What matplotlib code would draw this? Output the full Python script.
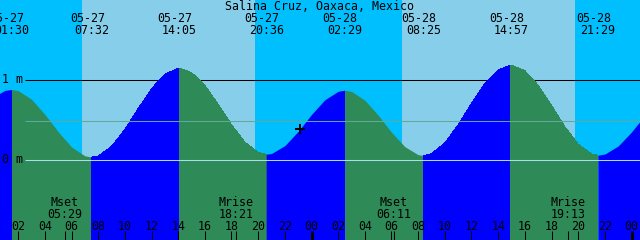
import matplotlib
matplotlib.use('Agg')
import matplotlib.pyplot as plt
import numpy as np

station = 'Salina Cruz, Oaxaca, Mexico'

# all times are hours counted from 05-27 00:00
event_hours = [1.500, 7.533, 14.083, 20.600, 26.483, 32.417, 38.950, 45.483]
event_levels = [0.875, 0.030, 1.140, 0.066, 0.866, 0.050, 1.180, 0.054]
event_dates = ['05-27', '05-27', '05-27', '05-27', '05-28', '05-28', '05-28', '05-28']
event_times = ['01:30', '07:32', '14:05', '20:36', '02:29', '08:25', '14:57', '21:29']

# water level (m) every hour, 00:00 05-27 .. 01:00 05-29
hourly_levels = [0.768, 0.863, 0.861, 0.753, 0.565, 0.347, 0.157, 0.046,
                 0.044, 0.162, 0.376, 0.636, 0.885, 1.067, 1.140, 1.088,
                 0.926, 0.691, 0.435, 0.218, 0.088, 0.075, 0.173, 0.352,
                 0.563, 0.747, 0.853, 0.851, 0.741, 0.554, 0.341, 0.160,
                 0.060, 0.072, 0.206, 0.433, 0.701, 0.949, 1.122, 1.180,
                 1.110, 0.928, 0.675, 0.410, 0.192, 0.069, 0.068, 0.169,
                 0.344, 0.552]

sunrise_hours = [6.79, 30.79]
sunset_hours = [19.76, 43.76]

moon_hours = [5.483, 18.350, 30.183, 43.217]
moon_names = ['Mset', 'Mrise', 'Mset', 'Mrise']
moon_times = ['05:29', '18:21', '06:11', '19:13']

tick_hours = list(range(2, 49, 2))
mean_level = 0.4875
now_hour = 23.17
now_level = 0.385

# colours
day_col = '#87CEEB'
night_col = '#00BFFF'
rise_col = '#0000FF'
fall_col = '#2E8B57'
mean_col = '#62A89A'
datum_col = '#A8DCEE'

# pixel layout: 13.333 px per hour, 80 px per metre
px_h = 640 / 48.0
x0 = 8.5 / px_h
ylo, yhi = -80.5 / 80, 159.5 / 80

fig = plt.figure(figsize=(6.4, 2.4), dpi=100)
ax = fig.add_axes([0, 0, 1, 1])
ax.set_xlim(x0, x0 + 48)
ax.set_ylim(ylo, yhi)
ax.axis('off')

font = dict(family='DejaVu Sans Mono', size=8.4, color='black')

# sky
ax.axvspan(-5, sunrise_hours[0], color=night_col, lw=0, zorder=0)
for r, s in zip(sunrise_hours, sunset_hours):
    ax.axvspan(r, s, color=day_col, lw=0, zorder=0)
ax.axvspan(sunset_hours[0], sunrise_hours[1], color=night_col, lw=0, zorder=0)
ax.axvspan(sunset_hours[1], 60, color=night_col, lw=0, zorder=0)

# 1 m line sits behind the water
x_line = x0 + 25 / px_h
ax.hlines(1.0, x_line, 60, color='black', lw=0.75, zorder=1)

# water, coloured by rising / falling tide
t = np.array(list(range(len(hourly_levels))) + event_hours, dtype=float)
lv = np.array(hourly_levels + event_levels)
order = np.argsort(t)
t, lv = t[order], lv[order]
edges = [t[0]] + event_hours + [t[-1]]
for a, b in zip(edges[:-1], edges[1:]):
    m = (t >= a) & (t <= b)
    rising = lv[m][-1] > lv[m][0]
    ax.fill_between(t[m], ylo - 1, lv[m], color=rise_col if rising else fall_col,
                    lw=0, antialiased=False, zorder=2)

ax.hlines(mean_level, x_line, 60, color=mean_col, lw=0.75, zorder=3)
ax.hlines(0.0, x_line, 60, color=datum_col, lw=0.75, zorder=3)

ax.plot([now_hour], [now_level], marker='+', color='black', ms=7, mew=1.4, zorder=5)

# text rows (y in axes fraction from pixel rows)
xt = ax.get_xaxis_transform()
def fy(row):
    return 1 - row / 240.0

ax.text(x0 + 24, fy(10.5), station, transform=xt, ha='center', va='baseline', **font)
for h, d, tm in zip(event_hours, event_dates, event_times):
    ax.text(h - 4.5 / px_h, fy(21.5), d, transform=xt, ha='center', va='baseline', **font)
    ax.text(h, fy(34), tm, transform=xt, ha='center', va='baseline', **font)

for h, n, tm in zip(moon_hours, moon_names, moon_times):
    ax.text(h, fy(206), n, transform=xt, ha='center', va='baseline', **font)
    ax.text(h, fy(217.5), tm, transform=xt, ha='center', va='baseline', **font)

ax.text(x0 + 2.5 / px_h, 1.0, '1 m', ha='left', va='center', **font)
ax.text(x0 + 2.5 / px_h, 0.0, '0 m', ha='left', va='center', **font)

# hour ticks along the bottom
for h in tick_hours:
    ax.text(h, fy(230), '%02d' % (h % 24), transform=xt, ha='center', va='baseline', **font)
    ax.vlines(h, 0, fy(231), transform=xt, color='black',
              lw=2.2 if h % 24 == 0 else 0.75, zorder=6)
ax.vlines(moon_hours, 0, fy(231), transform=xt, color='black', lw=0.75, zorder=6)

fig.savefig('out.png', dpi=100)
